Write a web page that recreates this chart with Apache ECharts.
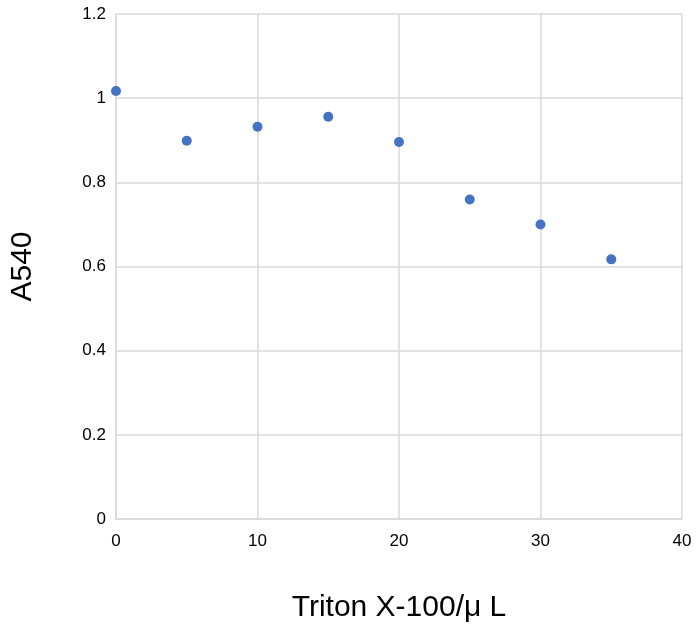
<!DOCTYPE html>
<html><head><meta charset="utf-8">
<script src="https://cdn.jsdelivr.net/npm/echarts@6/dist/echarts.min.js"></script>
<style>html,body{margin:0;padding:0;background:#fff}#c{width:700px;height:628px}</style>
</head><body><div id="c"></div>
<script>
const xValues = [0, 5, 10, 15, 20, 25, 30, 35];
const yValues = [1.017, 0.899, 0.932, 0.956, 0.896, 0.759, 0.700, 0.617];
const chart = echarts.init(document.getElementById('c'));
const grid = {lineStyle:{color:'#d9d9d9',width:1.5}};
chart.setOption({
  animation:false,
  grid:{left:110,right:18,top:14,bottom:108},
  xAxis:{type:'value',min:0,max:40,interval:10,
    name:'Triton X-100/\u03bc L',nameLocation:'middle',nameGap:74,
    nameTextStyle:{fontSize:30,color:'#000',fontFamily:'Liberation Sans'},
    axisLine:{show:true,lineStyle:{color:'#d9d9d9',width:1.5}},axisTick:{show:false},
    axisLabel:{fontSize:17,color:'#000',margin:14,fontFamily:'Liberation Sans'},splitLine:Object.assign({show:true},grid)},
  yAxis:{type:'value',min:0,max:1.2,interval:0.2,
    name:'A540',nameLocation:'middle',nameGap:78,
    nameTextStyle:{fontSize:30,color:'#000',fontFamily:'Liberation Sans'},
    axisLine:{show:true,lineStyle:{color:'#d9d9d9',width:1.5}},axisTick:{show:false},
    axisLabel:{fontSize:17,color:'#000',margin:10,fontFamily:'Liberation Sans',formatter:v=>String(+v.toFixed(1))},
    splitLine:Object.assign({show:true},grid)},
  series:[{type:'scatter',symbolSize:10,itemStyle:{color:'#4472c4',opacity:1},
    data:xValues.map((x,i)=>[x,yValues[i]])}]
});
</script></body></html>
